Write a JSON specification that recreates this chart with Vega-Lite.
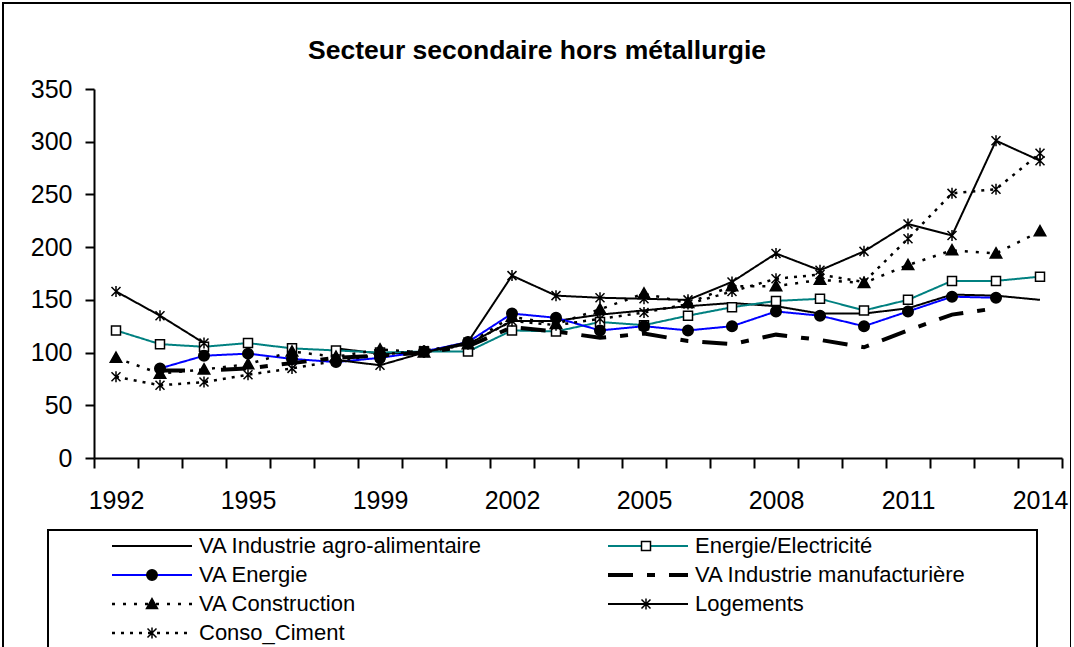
{
  "$schema": "https://vega.github.io/schema/vega-lite/v6.json",
  "width": 1068,
  "height": 700,
  "autosize": {"type": "none"},
  "padding": {"left": 3, "top": 3, "right": 0, "bottom": 0},
  "background": "white",
  "title": {"text": "Secteur secondaire hors métallurgie", "fontSize": 26.5, "font": "Liberation Sans", "fontWeight": "bold", "color": "black", "anchor": "middle", "frame": "group", "baseline": "bottom", "offset": -88},
  "config": {
    "font": "Liberation Sans",
    "view": {"stroke": "black", "strokeWidth": 2},
    "axis": {"domainColor": "black", "tickColor": "black", "labelColor": "black", "grid": false, "domainWidth": 2, "tickWidth": 2, "labelFont": "Liberation Sans"}
  },
  "data": {"values": [
    {"year": "1997", "series": "VA Industrie agro-alimentaire", "value": 104},
    {"year": "1999", "series": "VA Industrie agro-alimentaire", "value": 99},
    {"year": "2000", "series": "VA Industrie agro-alimentaire", "value": 100},
    {"year": "2001", "series": "VA Industrie agro-alimentaire", "value": 108},
    {"year": "2002", "series": "VA Industrie agro-alimentaire", "value": 130},
    {"year": "2003", "series": "VA Industrie agro-alimentaire", "value": 130},
    {"year": "2004", "series": "VA Industrie agro-alimentaire", "value": 136},
    {"year": "2005", "series": "VA Industrie agro-alimentaire", "value": 140},
    {"year": "2006", "series": "VA Industrie agro-alimentaire", "value": 144},
    {"year": "2007", "series": "VA Industrie agro-alimentaire", "value": 147},
    {"year": "2008", "series": "VA Industrie agro-alimentaire", "value": 144},
    {"year": "2009", "series": "VA Industrie agro-alimentaire", "value": 137},
    {"year": "2010", "series": "VA Industrie agro-alimentaire", "value": 137},
    {"year": "2011", "series": "VA Industrie agro-alimentaire", "value": 142},
    {"year": "2012", "series": "VA Industrie agro-alimentaire", "value": 155},
    {"year": "2013", "series": "VA Industrie agro-alimentaire", "value": 154},
    {"year": "2014", "series": "VA Industrie agro-alimentaire", "value": 150},

    {"year": "1992", "series": "Energie/Electricité", "value": 121},
    {"year": "1993", "series": "Energie/Electricité", "value": 108},
    {"year": "1994", "series": "Energie/Electricité", "value": 105.5},
    {"year": "1995", "series": "Energie/Electricité", "value": 109},
    {"year": "1996", "series": "Energie/Electricité", "value": 104},
    {"year": "1997", "series": "Energie/Electricité", "value": 102},
    {"year": "1999", "series": "Energie/Electricité", "value": 100},
    {"year": "2000", "series": "Energie/Electricité", "value": 101},
    {"year": "2001", "series": "Energie/Electricité", "value": 101},
    {"year": "2002", "series": "Energie/Electricité", "value": 121},
    {"year": "2003", "series": "Energie/Electricité", "value": 120},
    {"year": "2004", "series": "Energie/Electricité", "value": 129},
    {"year": "2005", "series": "Energie/Electricité", "value": 126},
    {"year": "2006", "series": "Energie/Electricité", "value": 135},
    {"year": "2007", "series": "Energie/Electricité", "value": 143},
    {"year": "2008", "series": "Energie/Electricité", "value": 149},
    {"year": "2009", "series": "Energie/Electricité", "value": 151},
    {"year": "2010", "series": "Energie/Electricité", "value": 140},
    {"year": "2011", "series": "Energie/Electricité", "value": 150},
    {"year": "2012", "series": "Energie/Electricité", "value": 168},
    {"year": "2013", "series": "Energie/Electricité", "value": 168},
    {"year": "2014", "series": "Energie/Electricité", "value": 172},

    {"year": "1993", "series": "VA Energie", "value": 85},
    {"year": "1994", "series": "VA Energie", "value": 97},
    {"year": "1995", "series": "VA Energie", "value": 99},
    {"year": "1996", "series": "VA Energie", "value": 94},
    {"year": "1997", "series": "VA Energie", "value": 91},
    {"year": "1999", "series": "VA Energie", "value": 95},
    {"year": "2000", "series": "VA Energie", "value": 101},
    {"year": "2001", "series": "VA Energie", "value": 110},
    {"year": "2002", "series": "VA Energie", "value": 137},
    {"year": "2003", "series": "VA Energie", "value": 133},
    {"year": "2004", "series": "VA Energie", "value": 121},
    {"year": "2005", "series": "VA Energie", "value": 125},
    {"year": "2006", "series": "VA Energie", "value": 121},
    {"year": "2007", "series": "VA Energie", "value": 125},
    {"year": "2008", "series": "VA Energie", "value": 139},
    {"year": "2009", "series": "VA Energie", "value": 135},
    {"year": "2010", "series": "VA Energie", "value": 125},
    {"year": "2011", "series": "VA Energie", "value": 139},
    {"year": "2012", "series": "VA Energie", "value": 153},
    {"year": "2013", "series": "VA Energie", "value": 152},

    {"year": "1993", "series": "VA Industrie manufacturière", "value": 83},
    {"year": "1994", "series": "VA Industrie manufacturière", "value": 83},
    {"year": "1995", "series": "VA Industrie manufacturière", "value": 85},
    {"year": "1996", "series": "VA Industrie manufacturière", "value": 90},
    {"year": "1997", "series": "VA Industrie manufacturière", "value": 95},
    {"year": "1999", "series": "VA Industrie manufacturière", "value": 97},
    {"year": "2000", "series": "VA Industrie manufacturière", "value": 100},
    {"year": "2001", "series": "VA Industrie manufacturière", "value": 106},
    {"year": "2002", "series": "VA Industrie manufacturière", "value": 124},
    {"year": "2003", "series": "VA Industrie manufacturière", "value": 120},
    {"year": "2004", "series": "VA Industrie manufacturière", "value": 114},
    {"year": "2005", "series": "VA Industrie manufacturière", "value": 118},
    {"year": "2006", "series": "VA Industrie manufacturière", "value": 111},
    {"year": "2007", "series": "VA Industrie manufacturière", "value": 108},
    {"year": "2008", "series": "VA Industrie manufacturière", "value": 117},
    {"year": "2009", "series": "VA Industrie manufacturière", "value": 112},
    {"year": "2010", "series": "VA Industrie manufacturière", "value": 105},
    {"year": "2011", "series": "VA Industrie manufacturière", "value": 121},
    {"year": "2012", "series": "VA Industrie manufacturière", "value": 136},
    {"year": "2013", "series": "VA Industrie manufacturière", "value": 142},

    {"year": "1992", "series": "VA Construction", "value": 95},
    {"year": "1993", "series": "VA Construction", "value": 80},
    {"year": "1994", "series": "VA Construction", "value": 84},
    {"year": "1995", "series": "VA Construction", "value": 89},
    {"year": "1996", "series": "VA Construction", "value": 101},
    {"year": "1997", "series": "VA Construction", "value": 96},
    {"year": "1999", "series": "VA Construction", "value": 103},
    {"year": "2000", "series": "VA Construction", "value": 100},
    {"year": "2001", "series": "VA Construction", "value": 108},
    {"year": "2002", "series": "VA Construction", "value": 134},
    {"year": "2003", "series": "VA Construction", "value": 127},
    {"year": "2004", "series": "VA Construction", "value": 141},
    {"year": "2005", "series": "VA Construction", "value": 156},
    {"year": "2006", "series": "VA Construction", "value": 147},
    {"year": "2007", "series": "VA Construction", "value": 163},
    {"year": "2008", "series": "VA Construction", "value": 163},
    {"year": "2009", "series": "VA Construction", "value": 169},
    {"year": "2010", "series": "VA Construction", "value": 166},
    {"year": "2011", "series": "VA Construction", "value": 183},
    {"year": "2012", "series": "VA Construction", "value": 197},
    {"year": "2013", "series": "VA Construction", "value": 194},
    {"year": "2014", "series": "VA Construction", "value": 215},

    {"year": "1992", "series": "Logements", "value": 158},
    {"year": "1993", "series": "Logements", "value": 135},
    {"year": "1994", "series": "Logements", "value": 109},
    {"year": "1995", "series": "Logements", "value": null},
    {"year": "1996", "series": "Logements", "value": null},
    {"year": "1997", "series": "Logements", "value": 93},
    {"year": "1999", "series": "Logements", "value": 88},
    {"year": "2000", "series": "Logements", "value": 100},
    {"year": "2001", "series": "Logements", "value": 110},
    {"year": "2002", "series": "Logements", "value": 173},
    {"year": "2003", "series": "Logements", "value": 154},
    {"year": "2004", "series": "Logements", "value": 152},
    {"year": "2005", "series": "Logements", "value": 151},
    {"year": "2006", "series": "Logements", "value": 150},
    {"year": "2007", "series": "Logements", "value": 167},
    {"year": "2008", "series": "Logements", "value": 194},
    {"year": "2009", "series": "Logements", "value": 178},
    {"year": "2010", "series": "Logements", "value": 196},
    {"year": "2011", "series": "Logements", "value": 222},
    {"year": "2012", "series": "Logements", "value": 211},
    {"year": "2013", "series": "Logements", "value": 301},
    {"year": "2014", "series": "Logements", "value": 282},

    {"year": "1992", "series": "Conso_Ciment", "value": 77},
    {"year": "1993", "series": "Conso_Ciment", "value": 69},
    {"year": "1994", "series": "Conso_Ciment", "value": 72},
    {"year": "1995", "series": "Conso_Ciment", "value": 79},
    {"year": "1996", "series": "Conso_Ciment", "value": 85},
    {"year": "1997", "series": "Conso_Ciment", "value": 92},
    {"year": "1999", "series": "Conso_Ciment", "value": 98},
    {"year": "2000", "series": "Conso_Ciment", "value": 102},
    {"year": "2001", "series": "Conso_Ciment", "value": 108},
    {"year": "2002", "series": "Conso_Ciment", "value": 130},
    {"year": "2003", "series": "Conso_Ciment", "value": 126},
    {"year": "2004", "series": "Conso_Ciment", "value": 132},
    {"year": "2005", "series": "Conso_Ciment", "value": 138},
    {"year": "2006", "series": "Conso_Ciment", "value": 146},
    {"year": "2007", "series": "Conso_Ciment", "value": 158},
    {"year": "2008", "series": "Conso_Ciment", "value": 170},
    {"year": "2009", "series": "Conso_Ciment", "value": 174},
    {"year": "2010", "series": "Conso_Ciment", "value": 167},
    {"year": "2011", "series": "Conso_Ciment", "value": 208},
    {"year": "2012", "series": "Conso_Ciment", "value": 251},
    {"year": "2013", "series": "Conso_Ciment", "value": 255},
    {"year": "2014", "series": "Conso_Ciment", "value": 289}
  ]},
  "layer": [
    {
      "mark": {"type": "line", "invalid": "break-paths-show-domains", "strokeCap": "butt", "strokeJoin": "miter"},
      "encoding": {
        "x": {
          "field": "year", "type": "ordinal",
          "scale": {"type": "band", "domain": ["1992","1993","1994","1995","1996","1997","1999","2000","2001","2002","2003","2004","2005","2006","2007","2008","2009","2010","2011","2012","2013","2014"], "range": [91, 1059], "paddingInner": 0, "paddingOuter": 0},
          "axis": {"orient": "bottom", "offset": -245, "title": null, "tickBand": "extent", "labelAngle": 0, "labelFontSize": 25, "labelPadding": 20, "tickSize": 10, "labelOverlap": false, "labelBound": false, "labelFlush": false,
                   "labelExpr": "indexof(['1992','1995','1999','2002','2005','2008','2011','2014'], datum.label) >= 0 ? datum.label : ''"}
        },
        "y": {
          "field": "value", "type": "quantitative",
          "scale": {"domain": [0, 350], "range": [455, 86], "nice": false},
          "axis": {"orient": "left", "offset": -91, "title": null, "values": [0, 50, 100, 150, 200, 250, 300, 350], "labelFontSize": 25, "labelPadding": 13, "tickSize": 9}
        },
        "stroke": {
          "field": "series", "type": "nominal",
          "scale": {"domain": ["VA Industrie agro-alimentaire", "Energie/Electricité", "VA Energie", "VA Industrie manufacturière", "VA Construction", "Logements", "Conso_Ciment"],
                    "range": ["black", "#008080", "#0000FF", "black", "black", "black", "black"]},
          "legend": {
            "title": null, "orient": "none", "legendX": 45, "legendY": 527, "columns": 2, "direction": "horizontal",
            "symbolType": "M44.2,0M-4.706,0L4.706,0", "symbolSize": 289, "symbolOffset": 88,
            "labelFontSize": 22, "labelFont": "Liberation Sans", "labelColor": "black", "labelLimit": 600, "labelOffset": 36,
            "padding": 5, "rowPadding": 7, "columnPadding": 16, "strokeColor": "black", "fillColor": "white",
            "encode": {"legend": {"update": {"strokeWidth": {"value": 2}}}}
          }
        },
        "strokeDash": {
          "field": "series", "type": "nominal",
          "scale": {"domain": ["VA Industrie agro-alimentaire", "Energie/Electricité", "VA Energie", "VA Industrie manufacturière", "VA Construction", "Logements", "Conso_Ciment"],
                    "range": [[1, 0], [1, 0], [1, 0], [25, 14, 8, 14], [3, 8], [1, 0], [3, 6]]}
        },
        "strokeWidth": {
          "field": "series", "type": "ordinal",
          "scale": {"type": "ordinal", "domain": ["VA Industrie agro-alimentaire", "Energie/Electricité", "VA Energie", "VA Industrie manufacturière", "VA Construction", "Logements", "Conso_Ciment"],
                    "range": [2, 2, 2, 4, 2.5, 2, 2.5]}
        }
      }
    },
    {
      "transform": [{"filter": "datum.value != null && datum.series !== 'VA Industrie agro-alimentaire' && datum.series !== 'VA Industrie manufacturière'"}],
      "mark": {"type": "point", "opacity": 1, "stroke": "black", "strokeWidth": 1.5, "size": 100},
      "encoding": {
        "x": {"field": "year", "type": "ordinal"},
        "y": {"field": "value", "type": "quantitative"},
        "shape": {
          "field": "series", "type": "nominal", "legend": null,
          "scale": {"domain": ["Energie/Electricité", "VA Energie", "VA Construction", "Logements", "Conso_Ciment"],
                    "range": ["M-0.9,-0.9L0.9,-0.9L0.9,0.9L-0.9,0.9Z", "M1.05,0A1.05,1.05,0,1,1,-1.05,0A1.05,1.05,0,1,1,1.05,0Z", "M0,-1.15L1.15,0.9L-1.15,0.9Z", "M-0.9,-0.9L0.9,0.9M-0.9,0.9L0.9,-0.9M0,-1.1L0,1.1", "M-0.9,-0.9L0.9,0.9M-0.9,0.9L0.9,-0.9M0,-1.1L0,1.1"]}
        },
        "fill": {
          "field": "series", "type": "nominal", "legend": null,
          "scale": {"domain": ["Energie/Electricité", "VA Energie", "VA Construction", "Logements", "Conso_Ciment"],
                    "range": ["white", "black", "black", "transparent", "transparent"]}
        }
      }
    },
    {
      "transform": [{"filter": "false"}],
      "mark": {"type": "point", "opacity": 1, "stroke": "black", "strokeWidth": 1.5},
      "encoding": {
        "shape": {
          "field": "series", "type": "nominal",
          "scale": {"domain": ["VA Industrie agro-alimentaire", "Energie/Electricité", "VA Energie", "VA Industrie manufacturière", "VA Construction", "Logements", "Conso_Ciment"],
                    "range": ["M44.2,0",
                              "M44.2,0M-0.529,-0.529L0.529,-0.529L0.529,0.529L-0.529,0.529Z",
                              "M44.2,0M0.612,0A0.612,0.612,0,1,1,-0.612,0A0.612,0.612,0,1,1,0.612,0Z",
                              "M44.2,0",
                              "M44.2,0M0,-0.647L0.647,0.529L-0.647,0.529Z",
                              "M44.2,0M-0.529,-0.529L0.529,0.529M-0.529,0.529L0.529,-0.529M0,-0.647L0,0.647",
                              "M44.2,0M-0.529,-0.529L0.529,0.529M-0.529,0.529L0.529,-0.529M0,-0.647L0,0.647"]},
          "legend": {
            "title": null, "orient": "none", "legendX": 45, "legendY": 527, "columns": 2, "direction": "horizontal",
            "symbolSize": 289, "symbolOffset": 88, "symbolStrokeWidth": 1.5, "symbolStrokeColor": "black", "symbolOpacity": 1,
            "labelFontSize": 22, "labelFont": "Liberation Sans", "labelOpacity": 0, "labelLimit": 600, "labelOffset": 36,
            "padding": 5, "rowPadding": 7, "columnPadding": 16,
            "encode": {"symbols": {"update": {"stroke": {"value": "black"}, "strokeWidth": {"value": 1.5}}}}
          }
        },
        "fill": {
          "field": "series", "type": "nominal",
          "scale": {"domain": ["VA Industrie agro-alimentaire", "Energie/Electricité", "VA Energie", "VA Industrie manufacturière", "VA Construction", "Logements", "Conso_Ciment"],
                    "range": ["transparent", "white", "black", "transparent", "black", "transparent", "transparent"]},
          "legend": {
            "title": null, "orient": "none", "legendX": 45, "legendY": 527, "columns": 2, "direction": "horizontal",
            "symbolSize": 289, "symbolOffset": 88, "symbolStrokeWidth": 1.5, "symbolStrokeColor": "black", "symbolOpacity": 1,
            "labelFontSize": 22, "labelFont": "Liberation Sans", "labelOpacity": 0, "labelLimit": 600, "labelOffset": 36,
            "padding": 5, "rowPadding": 7, "columnPadding": 16,
            "encode": {"symbols": {"update": {"stroke": {"value": "black"}, "strokeWidth": {"value": 1.5}}}}
          }
        }
      }
    }
  ],
  "resolve": {"scale": {"shape": "independent", "fill": "independent"}}
}
